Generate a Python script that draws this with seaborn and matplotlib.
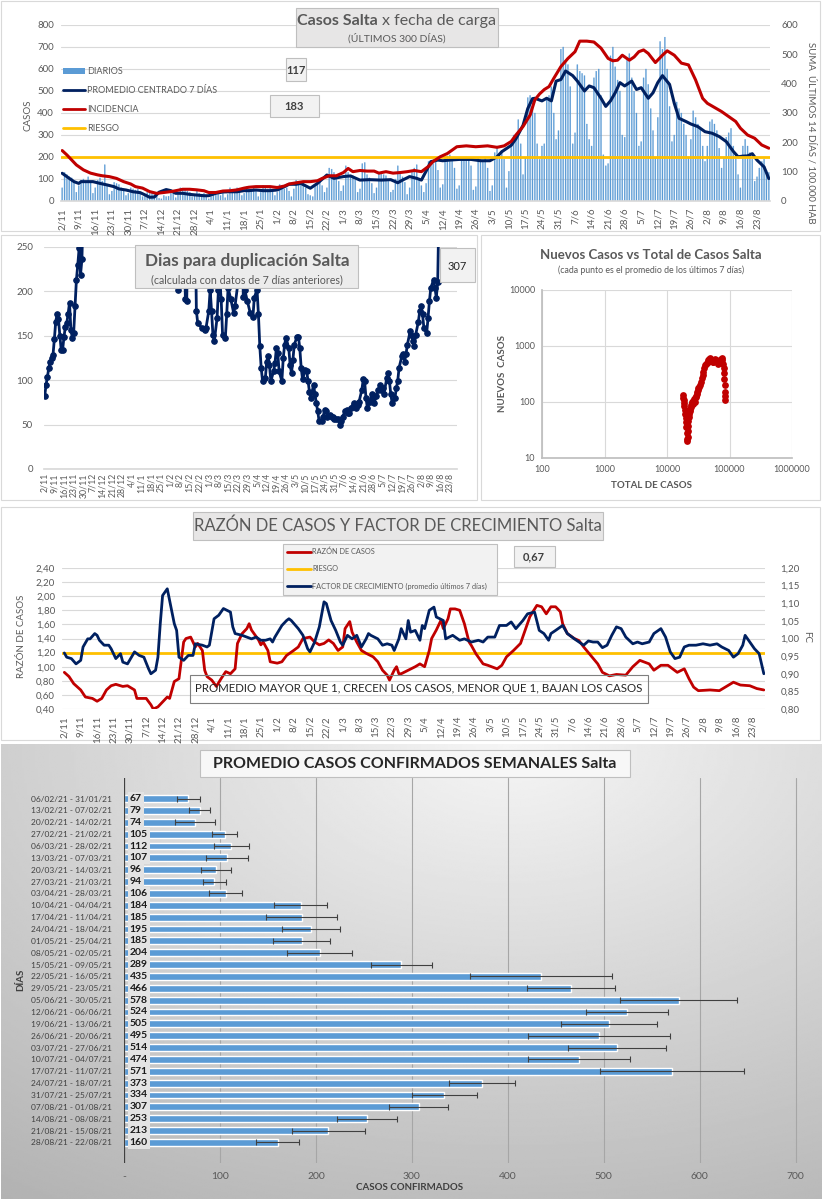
import numpy as np
import matplotlib
matplotlib.use("Agg")
import matplotlib.pyplot as plt
import seaborn as sns
from matplotlib.patches import Rectangle, Patch
from matplotlib.lines import Line2D

sns.set_theme(style="white")
plt.rcParams['font.family'] = ['Lato', 'DejaVu Sans']

# ---------------- datos ----------------
fechas_ticks = ['2/11', '9/11', '16/11', '23/11', '30/11', '7/12', '14/12', '21/12', '28/12',
                '4/1', '11/1', '18/1', '25/1', '1/2', '8/2', '15/2', '22/2', '1/3', '8/3',
                '15/3', '22/3', '29/3', '5/4', '12/4', '19/4', '26/4', '3/5', '10/5', '17/5',
                '24/5', '31/5', '7/6', '14/6', '21/6', '28/6', '5/7', '12/7', '19/7', '26/7',
                '2/8', '9/8', '16/8', '23/8']

# casos diarios (semanas lun..dom desde 2/11/2020)
diarios = [
    60, 130, 120, 110, 105, 90, 40,
    70, 95, 100, 90, 110, 85, 35,
    60, 95, 105, 90, 165, 70, 30,
    45, 85, 80, 75, 60, 50, 25,
    35, 60, 55, 50, 55, 40, 20,
    25, 40, 35, 38, 30, 25, 12,
    10, 25, 20, 22, 35, 45, 15,
    30, 60, 55, 50, 45, 40, 20,
    25, 45, 35, 30, 35, 25, 10,
    20, 40, 30, 30, 25, 35, 15,
    30, 60, 50, 45, 60, 40, 25,
    35, 65, 55, 50, 60, 45, 20,
    40, 70, 60, 55, 60, 50, 25,
    40, 75, 65, 55, 60, 45, 20,
    55, 95, 90, 85, 80, 60, 30,
    25, 20, 70, 85, 95, 70, 40,
    60, 150, 145, 130, 110, 90, 45,
    70, 160, 130, 110, 115, 95, 40,
    55, 170, 175, 120, 105, 80, 35,
    60, 130, 125, 120, 115, 90, 40,
    50, 100, 160, 130, 110, 85, 30,
    60, 140, 150, 165, 100, 70, 40,
    80, 180, 175, 170, 180, 140, 60,
    75, 200, 205, 210, 195, 150, 55,
    70, 185, 195, 200, 190, 160, 50,
    65, 195, 190, 185, 200, 150, 45,
    70, 220, 250, 215, 230, 190, 60,
    135, 260, 300, 285, 370, 260, 120,
    195, 470, 480, 470, 400, 260, 190,
    250, 260, 470, 480, 520, 400, 280,
    320, 690, 700, 640, 620, 520, 260,
    310, 620, 590, 580, 570, 350, 280,
    250, 560, 590, 600, 480, 210, 160,
    170, 660, 700, 610, 550, 500, 300,
    290, 640, 670, 560, 500, 400, 250,
    270, 560, 600, 530, 420, 320, 200,
    380, 725, 690, 745, 600, 430, 270,
    300, 450, 420, 400, 350, 300, 200,
    280, 410, 380, 350, 330, 250, 180,
    250, 360, 370, 350, 320, 240, 150,
    200, 290, 310, 330, 250, 210, 120,
    60, 250, 280, 250, 220, 190, 90,
    110, 150, 180, 190, 140, 130,
]

prom_dias = [0, 3, 5, 7, 8, 10, 13, 16, 19, 22, 24, 27, 30, 33, 35, 37, 39, 41, 44, 46,
             48, 51, 54, 57, 60, 62, 65, 68, 71, 74, 77, 79, 82, 85, 88, 91, 94, 96, 99,
             101, 105, 108, 112, 115, 119, 122, 126, 130, 135, 139, 142, 144, 147, 150, 152,
             154, 156, 159, 161, 164, 168, 173, 177, 181, 184, 186, 190, 192, 195, 197, 199,
             200, 203, 205, 207, 209, 211, 213, 216, 218, 221, 223, 225, 228, 230, 232, 234,
             236, 238, 241, 243, 245, 248, 250, 252, 254, 257, 259, 261, 264, 266, 269, 272,
             275, 278, 281, 284, 286, 288, 290, 292, 294, 297, 299]
prom_vals = [126, 103, 88, 80, 88, 88, 88, 80, 73, 65, 55, 50, 42, 38, 28, 17, 18, 40, 52, 47,
             35, 35, 30, 27, 24, 24, 35, 41, 42, 42, 47, 47, 50, 47, 47, 50, 65, 76, 76,
             80, 58, 80, 118, 103, 111, 114, 95, 97, 95, 97, 83, 95, 111, 103, 95,
             136, 179, 186, 183, 186, 189, 189, 183, 183, 201, 224, 253, 283, 344, 420, 465,
             467, 455, 467, 455, 545, 552, 591, 570, 545, 500, 523, 515, 467, 430, 455, 492,
             538, 523, 545, 507, 515, 467, 492, 538, 570, 530, 444, 376, 361, 350, 338, 315,
             308, 293, 270, 225, 201, 204, 205, 215, 186, 155, 102]

inc_dias = [0, 2, 4, 6, 9, 12, 15, 17, 20, 23, 26, 29, 31, 34, 37, 40, 43, 46, 48, 51,
            54, 57, 60, 62, 65, 68, 71, 74, 77, 79, 82, 85, 88, 91, 94, 96, 99, 102, 105, 108,
            110, 113, 116, 119, 121, 123, 126, 129, 132, 134, 137, 140, 143, 146, 149,
            152, 155, 157, 160, 163, 167, 171, 175, 180, 184, 187, 190, 192, 195, 198,
            200, 202, 204, 206, 208, 211, 214, 217, 219, 222, 225, 228, 231, 233, 235, 237,
            240, 242, 244, 246, 248, 251, 254, 256, 259, 262, 265, 268, 271, 273, 276, 279,
            282, 285, 287, 290, 293, 296, 299]
inc_vals = [172, 157, 140, 123, 106, 95, 89, 86, 83, 77, 66, 58, 49, 44, 32, 26, 29, 32, 35, 40,
            40, 38, 35, 29, 29, 34, 35, 38, 44, 47, 49, 49, 49, 46, 51, 58, 62, 66, 66, 69,
            77, 86, 86, 97, 111, 100, 104, 102, 102, 95, 100, 95, 97, 100, 104,
            100, 118, 135, 151, 162, 185, 188, 185, 188, 183, 188, 203, 225, 254, 293,
            345, 365, 380, 390, 418, 458, 486, 509, 545, 545, 542, 521, 486, 478, 480, 497,
            480, 491, 509, 515, 503, 472, 497, 512, 497, 470, 464, 413, 350, 333, 319, 305,
            288, 271, 248, 225, 214, 191, 180]
riesgo_inc = 150

dup_dias = [0, 1, 2, 3, 4, 5, 6, 7, 8, 9, 10, 11, 12, 13, 14, 15, 16, 17, 18, 19, 20, 21, 22,
            23, 24, 25, 26, 27, 28, 96, 97, 98, 101, 102, 103, 104, 109,
            110, 111, 114, 116, 117, 119, 120, 121, 122, 123, 125, 126, 127, 128, 129, 131,
            132, 133, 135, 137, 138, 140, 141, 143, 144, 145, 147, 149, 151, 152, 154, 155,
            156, 157, 158, 160, 161, 162, 163, 164, 166, 167, 168, 169, 170, 172, 173, 174,
            175, 177, 178, 179, 180, 181, 183, 184, 185, 186, 187, 189, 190, 191, 192, 193,
            195, 196, 197, 198, 199, 201, 202, 203, 204, 205, 207, 208, 209, 210, 211, 213,
            214, 215, 216, 218, 219, 220, 221, 222, 224, 225, 226, 227, 228, 230, 231, 232,
            233, 234, 236, 237, 238, 239, 240, 242, 243, 244, 245, 246, 248, 249, 250, 251,
            252, 254, 255, 256, 257, 259, 260, 261, 262, 263, 265, 266, 267, 268, 269, 271,
            272, 273, 274, 275, 277, 278, 279, 280, 282, 283, 284, 285, 286, 299]
dup_vals = [82, 95, 104, 114, 121, 125, 128, 146, 166, 174, 169, 150, 134, 134, 149, 160, 164,
            175, 187, 157, 148, 153, 183, 213, 230, 249, 219, 236, 300, 300, 202, 300, 300, 192,
            189, 300, 300,
            178, 164, 159, 157, 159, 178, 202, 178, 151, 144, 170, 202, 211, 191, 151, 148,
            174, 204, 191, 176, 183, 208, 300, 300, 194, 202, 189, 176, 171, 193, 202, 174,
            138, 114, 99, 102, 121, 127, 117, 99, 110, 119, 136, 131, 110, 99, 125, 140,
            148, 136, 117, 108, 123, 140, 149, 149, 136, 114, 101, 112, 110, 99, 87, 80,
            95, 84, 74, 65, 54, 54, 59, 67, 65, 59, 61, 59, 59, 56, 56, 56,
            50, 54, 59, 65, 67, 63, 63, 69, 74, 71, 69, 72, 76, 89, 101, 99,
            80, 69, 76, 84, 80, 74, 82, 89, 95, 89, 91, 84, 102, 108, 99, 84,
            74, 80, 91, 99, 114, 127, 129, 121, 129, 140, 155, 151, 144, 138, 151, 166,
            178, 183, 174, 159, 153, 170, 189, 204, 213, 204, 193, 211, 300, 307]

total_casos = [17800, 18100, 18400, 18700, 19000, 19300, 19600, 19900, 20200, 20500, 20800,
               21000, 21200, 21400, 21600, 21800, 22000, 22300, 22600, 23000, 23400, 23900,
               24400, 24900, 25400, 25900, 26400, 27000, 27600, 28100, 28700, 29300, 29900,
               30500, 31100, 31800, 32500, 33800, 35000, 36000, 37200, 38300, 39500, 40700,
               42000, 43300, 44600, 46000, 47500, 49000, 50500, 52100, 53700, 55400, 57100,
               58900, 60800, 62700, 64600, 66600, 68700, 70900, 73100, 75400, 77000, 78600,
               80200, 81500, 82500, 83200, 84000, 84600, 85100]
nuevos_casos = [132, 120, 108, 96, 84, 72, 62, 52, 44, 36, 28, 22, 20, 24, 30, 38, 46, 55, 62,
                70, 76, 82, 88, 96, 100, 92, 104, 112, 100, 118, 128, 122, 140, 152, 165, 178,
                186, 199, 230, 263, 300, 345, 400, 455, 470, 487, 520, 560, 590, 599, 570, 540,
                520, 521, 545, 580, 560, 530, 500, 480, 520, 560, 590, 599, 560, 480, 400, 330,
                260, 200, 150, 130, 110]

razon_dias = [0, 2, 4, 7, 9, 12, 14, 16, 18, 20, 22, 25, 27, 30, 31, 33, 35, 37, 38, 40, 42,
              44, 45, 47, 49, 51, 52, 54, 56, 57, 59, 60, 61, 63, 65, 67, 69, 71, 73, 74, 76,
              78, 79, 80, 83, 84, 85, 87, 88, 91, 93, 95, 98, 100, 102, 105, 107, 109, 111,
              113, 115, 117, 119, 120, 122, 123, 125, 127, 129, 132, 134, 136, 138, 139, 141,
              142, 143, 144, 147, 150, 152, 154, 156, 157, 159, 161, 162, 164, 165, 167, 169,
              171, 173, 174, 176, 179, 181, 185, 187, 189, 192, 195, 197, 199, 202, 204, 206,
              208, 210, 212, 213, 215, 218, 220, 222, 225, 228, 230, 233, 236, 240, 243, 246,
              250, 252, 255, 258, 262, 265, 267, 269, 271, 276, 280, 284, 286, 289, 293, 296, 299]
razon_vals = [0.92, 0.86, 0.76, 0.67, 0.57, 0.55, 0.51, 0.55, 0.67, 0.73, 0.75, 0.72, 0.73,
              0.67, 0.55, 0.55, 0.55, 0.46, 0.40, 0.43, 0.50, 0.57, 0.55, 0.79, 0.83, 1.35,
              1.40, 1.42, 1.28, 1.33, 1.23, 0.95, 0.86, 0.81, 0.72, 0.83, 0.93, 0.90, 0.97,
              1.33, 1.47, 1.54, 1.61, 1.52, 1.38, 1.31, 1.35, 1.23, 1.07, 1.05, 1.07, 1.16,
              1.23, 1.28, 1.40, 1.42, 1.35, 1.31, 1.33, 1.38, 1.33, 1.23, 1.28, 1.54, 1.64,
              1.49, 1.35, 1.23, 1.19, 1.14, 1.07, 0.95, 0.88, 0.81, 0.95, 1.00, 0.90,
              0.90, 0.95, 1.00, 1.04, 1.00, 1.23, 1.40, 1.52, 1.66, 1.54, 1.68, 1.82, 1.82,
              1.80, 1.61, 1.35, 1.30, 1.18, 1.04, 1.02, 0.97, 1.02, 1.14, 1.23, 1.33, 1.52,
              1.71, 1.87, 1.85, 1.75, 1.85, 1.85, 1.78, 1.61, 1.47, 1.40, 1.37, 1.28, 1.16,
              1.04, 0.92, 0.87, 0.89, 0.88, 1.00, 1.09, 1.04, 0.95, 1.02, 1.02, 0.92, 0.97,
              0.83, 0.71, 0.66, 0.67, 0.66, 0.74, 0.78, 0.74, 0.73, 0.69, 0.67]
riesgo_razon = 1.20

fc_dias = [0, 1, 3, 5, 7, 8, 10, 11, 13, 14, 15, 17, 19, 20, 22, 24, 25, 27, 30, 32, 34, 36,
           37, 39, 40, 41, 42, 44, 45, 47, 48, 49, 51, 53, 55, 56, 59, 61, 62, 64, 66, 68,
           71, 72, 73, 76, 78, 80, 82, 84, 86, 88, 89, 90, 93, 95, 96, 97, 100, 102, 104,
           105, 107, 109, 111, 112, 114, 116, 118, 119, 121, 123, 125, 127, 129, 130, 131,
           134, 136, 138, 140, 141, 143, 144, 146, 147, 148, 150, 152, 153, 154, 156, 158,
           159, 162, 163, 166, 169, 171, 174, 177, 179, 181, 184, 186, 189, 191, 193, 196,
           198, 201, 203, 205, 207, 208, 210, 213, 215, 218, 220, 222, 224, 226, 228, 230,
           232, 234, 236, 238, 240, 243, 245, 247, 250, 252, 255, 257, 259, 261, 263, 265,
           267, 270, 273, 276, 279, 281, 284, 286, 288, 290, 291, 293, 295, 297, 299]
fc_vals = [0.959, 0.947, 0.943, 0.928, 0.938, 0.976, 0.999, 0.999, 1.014, 1.009, 0.995,
           0.981, 0.981, 0.971, 0.943, 0.957, 0.933, 0.928, 0.962, 0.952, 0.947, 0.914,
           0.900, 0.910, 0.947, 1.042, 1.122, 1.141, 1.108, 1.042, 1.023, 0.947, 0.938,
           0.952, 0.952, 0.985, 0.981, 0.976, 0.981, 1.056, 1.066, 1.085, 1.075, 1.033,
           1.014, 1.009, 1.004, 0.999, 1.004, 0.995, 0.995, 0.999, 0.990, 1.004, 1.037,
           1.051, 1.056, 1.051, 1.028, 1.009, 0.971, 0.962, 0.990, 1.033, 1.104, 1.099,
           1.051, 1.023, 0.990, 0.981, 1.009, 0.999, 1.009, 0.976, 0.999, 1.014, 1.009,
           0.999, 0.981, 0.985, 0.981, 0.966, 0.999, 1.028, 0.999, 1.051, 1.018, 1.023,
           0.995, 1.037, 1.028, 1.080, 1.089, 1.061, 1.051, 0.999, 1.009, 0.995, 0.999,
           0.990, 0.995, 0.990, 1.004, 1.004, 1.037, 1.037, 1.047, 1.028, 1.051, 1.070,
           1.075, 1.023, 1.014, 0.995, 1.014, 1.023, 1.037, 1.014, 0.999, 0.990, 0.981,
           0.993, 0.990, 0.990, 0.974, 0.981, 1.009, 1.033, 1.028, 1.004, 0.985, 0.990,
           0.985, 0.990, 1.014, 1.028, 1.004, 0.962, 0.943, 0.947, 0.976, 0.981, 0.981,
           0.985, 0.981, 0.985, 0.976, 0.966, 0.947, 0.957, 0.981, 1.009, 0.990, 0.971,
           0.957, 0.900]

semanas = ['06/02/21 - 31/01/21', '13/02/21 - 07/02/21', '20/02/21 - 14/02/21',
           '27/02/21 - 21/02/21', '06/03/21 - 28/02/21', '13/03/21 - 07/03/21',
           '20/03/21 - 14/03/21', '27/03/21 - 21/03/21', '03/04/21 - 28/03/21',
           '10/04/21 - 04/04/21', '17/04/21 - 11/04/21', '24/04/21 - 18/04/21',
           '01/05/21 - 25/04/21', '08/05/21 - 02/05/21', '15/05/21 - 09/05/21',
           '22/05/21 - 16/05/21', '29/05/21 - 23/05/21', '05/06/21 - 30/05/21',
           '12/06/21 - 06/06/21', '19/06/21 - 13/06/21', '26/06/21 - 20/06/21',
           '03/07/21 - 27/06/21', '10/07/21 - 04/07/21', '17/07/21 - 11/07/21',
           '24/07/21 - 18/07/21', '31/07/21 - 25/07/21', '07/08/21 - 01/08/21',
           '14/08/21 - 08/08/21', '21/08/21 - 15/08/21', '28/08/21 - 22/08/21']
promedio_sem = [67, 79, 74, 105, 112, 107, 96, 94, 106, 184, 185, 195, 185, 204, 289,
                435, 466, 578, 524, 505, 495, 514, 474, 571, 373, 334, 307, 253, 213, 160]
desvio_sem = [12, 11, 21, 13, 18, 22, 16, 12, 17, 28, 37, 30, 30, 34, 32,
              74, 46, 61, 43, 50, 74, 51, 53, 75, 34, 34, 31, 31, 38, 22]

# ---------------- estilo ----------------
AZUL_BARRA = '#5b9bd5'
NAVY = '#002060'
ROJO = '#c00000'
NARANJA = '#ffc000'
GRIS = '#595959'
GRILLA = '#d9d9d9'

W, H = 822, 1200
fig = plt.figure(figsize=(W / 100, H / 100), dpi=100)
fig.patch.set_facecolor('white')


def pos(x0, y0, x1, y1):
    return [x0 / W, 1 - y1 / H, (x1 - x0) / W, (y1 - y0) / H]


def caja(x0, y0, x1, y1, fc='#ebebeb', ec='#bfbfbf', lw=0.8, z=5, fill=True):
    fig.patches.append(Rectangle((x0 / W, 1 - y1 / H), (x1 - x0) / W, (y1 - y0) / H,
                                 transform=fig.transFigure, facecolor=fc, edgecolor=ec,
                                 lw=lw, zorder=z, fill=fill))


def texto(x, y, s, **kw):
    kw.setdefault('ha', 'center')
    kw.setdefault('va', 'center')
    kw.setdefault('color', GRIS)
    kw.setdefault('zorder', 6)
    fig.text(x / W, 1 - y / H, s, **kw)


def limpiar(ax):
    for s in ax.spines.values():
        s.set_visible(False)
    ax.set_facecolor('none')
    ax.set_xlabel('')
    ax.set_ylabel('')


def coma(v, d=2):
    return f"{v:.{d}f}".replace('.', ',')


# bordes de los paneles
for b in [(1, 1, 820, 231), (1, 235, 477, 500), (481, 235, 820, 500), (1, 507, 820, 740)]:
    caja(*b, fill=False, ec=GRILLA, z=-1)

tick_dias = list(range(0, 7 * len(fechas_ticks), 7))

# ---------------- panel 1: casos diarios ----------------
ax1 = fig.add_axes(pos(61, 25, 770, 201))
sns.barplot(x=np.arange(len(diarios)), y=diarios, native_scale=True, width=0.45,
            color=AZUL_BARRA, saturation=1, errorbar=None, ax=ax1)
for p in ax1.patches:
    p.set_snap(False)
    p.set_edgecolor(AZUL_BARRA)
    p.set_linewidth(0.2)
sns.lineplot(x=prom_dias, y=prom_vals, color=NAVY, lw=2.2, ax=ax1)
limpiar(ax1)
ax1.set_xlim(-0.5, 299.5)
ax1.set_ylim(0, 800)
ax1.set_yticks(range(0, 801, 100))
ax1.set_xticks(tick_dias)
ax1.set_xticklabels(fechas_ticks, rotation=90)
ax1.yaxis.grid(True, color=GRILLA, lw=0.8)
ax1.set_axisbelow(True)
ax1.spines['bottom'].set_visible(True)
ax1.spines['bottom'].set_color(GRILLA)
ax1.tick_params(axis='both', length=0, labelsize=7, labelcolor=GRIS, pad=5)

ax1b = ax1.twinx()
ax1b.axhline(riesgo_inc, color=NARANJA, lw=2, zorder=1)
sns.lineplot(x=inc_dias, y=inc_vals, color=ROJO, lw=2.2, ax=ax1b, zorder=3)
limpiar(ax1b)
ax1b.set_ylim(0, 600)
ax1b.set_yticks(range(0, 601, 100))
ax1b.tick_params(axis='y', length=0, labelsize=7, labelcolor=GRIS, pad=8)

texto(28, 115, 'CASOS', rotation=90, fontsize=7)
texto(811, 133, 'SUMA  ÚLTIMOS 14 DÍAS / 100.000 HAB', rotation=270, fontsize=7)

caja(296, 8, 498, 47, fc='#e7e6e6')
texto(378, 21, 'Casos Salta', ha='right', fontsize=11.5, fontweight='bold')
texto(382, 21, 'x fecha de carga', ha='left', fontsize=11.5)
texto(397, 38, '(ÚLTIMOS 300 DÍAS)', fontsize=7.5)

h1 = [Patch(facecolor=AZUL_BARRA, edgecolor='none'),
      Line2D([], [], color=NAVY, lw=2), Line2D([], [], color=ROJO, lw=2),
      Line2D([], [], color=NARANJA, lw=2)]
fig.legend(h1, ['DIARIOS', 'PROMEDIO CENTRADO 7 DÍAS', 'INCIDENCIA', 'RIESGO'],
           loc='upper left', bbox_to_anchor=(63 / W, 1 - 67 / H), frameon=False,
           fontsize=6.5, labelcolor=GRIS, handlelength=2.4, handleheight=0.6,
           labelspacing=1.1, handletextpad=0.3, borderpad=0, borderaxespad=0)

caja(286, 58, 306, 81, fc='#f2f2f2')
texto(296, 70, '117', fontsize=8, fontweight='bold', color='#404040')
caja(270, 95, 319, 117, fc='#f2f2f2')
texto(294, 106, '183', fontsize=8, fontweight='bold', color='#404040')

# ---------------- panel 2: días para duplicación ----------------
ax2 = fig.add_axes(pos(44, 247, 457, 469))
sns.lineplot(x=dup_dias, y=dup_vals, color=NAVY, lw=2, marker='o', markersize=4,
             markeredgecolor=NAVY, ax=ax2)
limpiar(ax2)
ax2.set_xlim(-0.5, 299)
ax2.set_ylim(0, 250)
ax2.set_yticks(range(0, 251, 50))
ax2.set_xticks(tick_dias)
ax2.set_xticklabels(fechas_ticks, rotation=90)
ax2.yaxis.grid(True, color=GRILLA, lw=0.8)
ax2.set_axisbelow(True)
ax2.spines['bottom'].set_visible(True)
ax2.spines['bottom'].set_color(GRILLA)
ax2.tick_params(axis='both', length=0, labelsize=6.3, labelcolor=GRIS, pad=3)
ax2.tick_params(axis='y', labelsize=7, pad=8)

caja(135, 245, 358, 288, fc='#ececec')
texto(247, 261, 'Dias para duplicación Salta', fontsize=12.3, fontweight='bold')
texto(247, 280, '(calculada con datos de 7 días anteriores)', fontsize=7.7)
caja(440, 248, 475, 282, fc='#f2f2f2')
texto(457, 267, '307', fontsize=8, color='#262626')

# ---------------- panel 3: nuevos vs total ----------------
ax3 = fig.add_axes(pos(542, 290, 792, 458))
sns.scatterplot(x=total_casos, y=nuevos_casos, color=ROJO, s=24, linewidth=0, ax=ax3)
limpiar(ax3)
ax3.set_xscale('log')
ax3.set_yscale('log')
ax3.set_xlim(100, 1e6)
ax3.set_ylim(10, 1e4)
ax3.set_xticks([100, 1000, 10000, 100000, 1000000])
ax3.set_xticklabels(['100', '1000', '10000', '100000', '1000000'])
ax3.set_yticks([10, 100, 1000, 10000])
ax3.set_yticklabels(['10', '100', '1000', '10000'])
ax3.minorticks_off()
ax3.grid(True, color=GRILLA, lw=0.8)
ax3.set_axisbelow(True)
for s in ['left', 'bottom']:
    ax3.spines[s].set_visible(True)
    ax3.spines[s].set_color('#bfbfbf')
ax3.tick_params(axis='both', length=0, labelsize=6.5, labelcolor=GRIS, pad=5)
texto(651, 255, 'Nuevos Casos vs Total de Casos Salta', fontsize=9.5, fontweight='bold')
texto(651, 270, '(cada punto es el promedio de los últimos 7 días)', fontsize=6.3)
texto(651, 485, 'TOTAL DE CASOS', fontsize=7, fontweight='bold')
texto(502, 374, 'NUEVOS  CASOS', rotation=90, fontsize=7, fontweight='bold')

# ---------------- panel 4: razón de casos y FC ----------------
ax4 = fig.add_axes(pos(62, 568, 765, 709))
ax4.axhline(riesgo_razon, color=NARANJA, lw=2, zorder=2)
sns.lineplot(x=razon_dias, y=razon_vals, color=ROJO, lw=2, ax=ax4, zorder=3)
limpiar(ax4)
ax4.set_xlim(-1, 299.5)
ax4.set_ylim(0.4, 2.4)
yt4 = [0.4 + 0.2 * i for i in range(11)]
ax4.set_yticks(yt4)
ax4.set_yticklabels([coma(v) for v in yt4])
ax4.set_xticks(tick_dias)
ax4.set_xticklabels(fechas_ticks, rotation=90)
ax4.yaxis.grid(True, color=GRILLA, lw=0.8)
ax4.set_axisbelow(True)
ax4.tick_params(axis='both', length=0, labelsize=7, labelcolor=GRIS, pad=5)

ax4b = ax4.twinx()
sns.lineplot(x=fc_dias, y=fc_vals, color=NAVY, lw=2, ax=ax4b)
limpiar(ax4b)
ax4b.set_ylim(0.8, 1.2)
yt4b = [0.8 + 0.05 * i for i in range(9)]
ax4b.set_yticks(yt4b)
ax4b.set_yticklabels([coma(v) for v in yt4b])
ax4b.tick_params(axis='y', length=0, labelsize=7, labelcolor=GRIS, pad=11)

texto(22, 636, 'RAZÓN DE CASOS', rotation=90, fontsize=7)
texto(807, 637, 'FC', rotation=270, fontsize=7)

caja(193, 512, 603, 540, fc='#e7e6e6')
texto(398, 526, 'RAZÓN DE CASOS Y FACTOR DE CRECIMIENTO Salta', fontsize=12)
caja(283, 544, 497, 595, fc='#f2f2f2')
h4 = [Line2D([], [], color=ROJO, lw=2), Line2D([], [], color=NARANJA, lw=2),
      Line2D([], [], color=NAVY, lw=2)]
leg4 = fig.legend(h4, ['RAZÓN DE CASOS', 'RIESGO',
                       'FACTOR DE CRECIMIENTO (promedio últimos 7 días)'],
                  loc='upper left', bbox_to_anchor=(287 / W, 1 - 548 / H), frameon=False,
                  fontsize=5.3, labelcolor=GRIS, handlelength=3.2, labelspacing=1.35,
                  handletextpad=0.2, borderpad=0, borderaxespad=0)
leg4.set_zorder(7)
caja(514, 546, 555, 567, fc='#f2f2f2')
texto(534, 557, '0,67', fontsize=8, fontweight='bold', color='#404040')
caja(190, 675, 648, 703, fill=False, ec='#7f7f7f')
texto(419, 689, 'PROMEDIO MAYOR QUE 1, CRECEN LOS CASOS, MENOR QUE 1, BAJAN LOS CASOS',
      fontsize=8.3, color='#262626')

# ---------------- panel 5: promedio semanal ----------------
axbg = fig.add_axes(pos(1, 744, 821, 1199), zorder=-2)
gx, gy = np.meshgrid(np.linspace(0, 1, 300), np.linspace(0, 1, 300))
# gy = 0 abajo, 1 arriba (origin='lower'): claro arriba al centro, oscuro abajo a la izquierda
fondo = 0.96 - 0.24 * np.hypot((gx - 0.62) * 1.0, (1 - gy) * 0.9)
axbg.imshow(fondo, cmap='gray', vmin=0, vmax=1, aspect='auto', origin='lower',
            extent=[0, 1, 0, 1], interpolation='bilinear')
axbg.set_xlim(0, 1)
axbg.set_ylim(0, 1)
axbg.set_axis_off()

ax5 = fig.add_axes(pos(124, 777.6, 812, 1163.4))
sns.barplot(x=promedio_sem, y=semanas, orient='h', color=AZUL_BARRA, saturation=1,
            width=0.58, errorbar=None, ax=ax5)
ax5.errorbar(promedio_sem, np.arange(len(semanas)), xerr=desvio_sem, fmt='none',
             ecolor='#404040', elinewidth=0.8, capsize=2.5, capthick=0.8)
limpiar(ax5)
ax5.set_xlim(0, 717)
ax5.set_xticks(range(0, 701, 100))
ax5.set_xticklabels(['-'] + [str(v) for v in range(100, 701, 100)])
ax5.xaxis.grid(True, color='#a6a6a6', lw=0.8)
ax5.set_axisbelow(True)
ax5.axvline(0, color='#404040', lw=1.6, zorder=4)
ax5.tick_params(axis='x', length=0, labelsize=7.5, labelcolor=GRIS, pad=6)
ax5.tick_params(axis='y', length=0, labelsize=6.0, labelcolor='#404040', pad=9)
for i, v in enumerate(promedio_sem):
    ax5.text(6, i, str(v), ha='left', va='center', fontsize=7.5, fontweight='bold',
             color='#1a1a1a', zorder=5,
             bbox=dict(boxstyle='square,pad=0.2', fc='#e3e3e3', ec='none'))

caja(200, 750, 630, 777, fc='#f7f7f7', ec='#bfbfbf')
texto(415, 764, 'PROMEDIO CASOS CONFIRMADOS SEMANALES Salta', fontsize=11.5,
      fontweight='bold', color='#262626')
texto(410, 1188, 'CASOS CONFIRMADOS', fontsize=7, fontweight='bold', color='#404040')
texto(21, 980, 'DÍAS', rotation=90, fontsize=7, fontweight='bold', color='#404040')

fig.savefig('out.png', dpi=100, facecolor='white')
